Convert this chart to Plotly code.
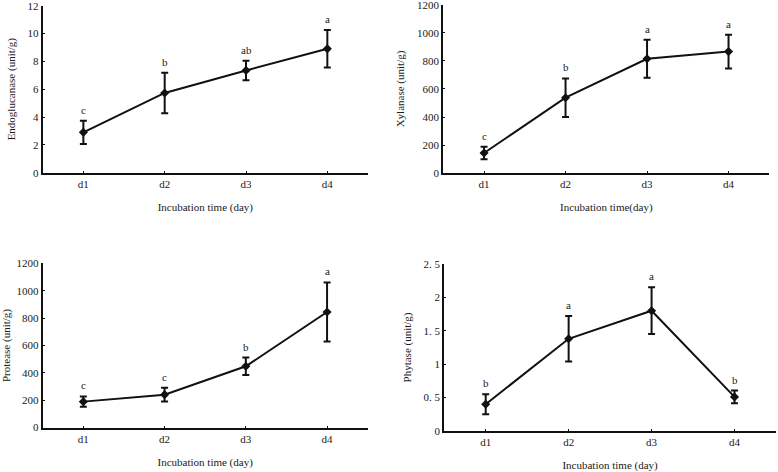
import plotly.graph_objects as go

days = ["d1", "d2", "d3", "d4"]

endo_mean = [2.9, 5.73, 7.35, 8.9]
endo_err = [0.83, 1.45, 0.7, 1.35]
endo_sig = ["c", "b", "ab", "a"]

xyl_mean = [144, 538, 815, 866]
xyl_err = [44, 137, 135, 120]
xyl_sig = ["c", "b", "a", "a"]

prot_mean = [190, 241, 448, 845]
prot_err = [38, 50, 64, 216]
prot_sig = ["c", "c", "b", "a"]

phy_mean = [0.40, 1.38, 1.80, 0.51]
phy_err = [0.15, 0.34, 0.35, 0.095]
phy_sig = ["b", "a", "a", "b"]

panels = [
    dict(mean=endo_mean, err=endo_err, sig=endo_sig, ytitle="Endoglucanase (unit/g)",
         xtitle="Incubation time (day)", yrange=[0, 12.0001], dtick=2,
         xdom=[0.0549, 0.473], ydom=[0.634, 0.988], tickvals=None, ticktext=None),
    dict(mean=xyl_mean, err=xyl_err, sig=xyl_sig, ytitle="Xylanase (unit/g)",
         xtitle="Incubation time(day)", yrange=[0, 1200.01], dtick=200,
         xdom=[0.5698, 0.9888], ydom=[0.633, 0.990], tickvals=None, ticktext=None),
    dict(mean=prot_mean, err=prot_err, sig=prot_sig, ytitle="Protease (unit/g)",
         xtitle="Incubation time (day)", yrange=[0, 1200.01], dtick=200,
         xdom=[0.0549, 0.4726], ydom=[0.094, 0.442], tickvals=None, ticktext=None),
    dict(mean=phy_mean, err=phy_err, sig=phy_sig, ytitle="Phytase (unit/g)",
         xtitle="Incubation time (day)", yrange=[0, 2.50001], dtick=0.5,
         xdom=[0.571, 0.9974], ydom=[0.087, 0.4407],
         tickvals=[0, 0.5, 1, 1.5, 2, 2.5], ticktext=["0", "0. 5", "1", "1. 5", "2", "2. 5"]),
]

FONT = "Liberation Serif"
FS = 11
TXT = "#1a1a1a"
fig = go.Figure()
layout = dict(
    width=778, height=472, margin=dict(l=0, r=0, t=0, b=0),
    paper_bgcolor="white", plot_bgcolor="white", showlegend=False,
    font=dict(family=FONT, size=FS, color=TXT),
)
annotations = []
for i, p in enumerate(panels):
    n = "" if i == 0 else str(i + 1)
    xa, ya = "x" + n, "y" + n
    fig.add_trace(go.Scatter(
        x=days, y=p["mean"], xaxis=xa, yaxis=ya, mode="lines+markers",
        line=dict(color="#111", width=2),
        marker=dict(symbol="diamond", size=7, color="#111"),
        error_y=dict(type="data", array=p["err"], visible=True, color="#111",
                     thickness=2, width=3.5),
    ))
    yax = dict(domain=p["ydom"], anchor=xa, range=p["yrange"], dtick=p["dtick"], tick0=0,
               automargin=False, ticklabeloverflow="allow",
               showgrid=False, zeroline=False, showline=True, linecolor="#111", linewidth=2,
               ticks="inside", ticklen=2, tickwidth=1, tickcolor="#111",
               tickfont=dict(family=FONT, size=FS, color=TXT),
               title=dict(text=p["ytitle"], font=dict(family=FONT, size=FS, color=TXT), standoff=10))
    if p["tickvals"] is not None:
        yax.update(tickmode="array", tickvals=p["tickvals"], ticktext=p["ticktext"])
    xax = dict(domain=p["xdom"], anchor=ya, range=[-0.5, 3.5], type="category",
               automargin=False,
               showgrid=False, zeroline=False, showline=True, linecolor="#111", linewidth=2,
               ticks="inside", ticklen=2, tickwidth=1, tickcolor="#111",
               tickfont=dict(family=FONT, size=FS, color=TXT),
               title=dict(text=p["xtitle"], font=dict(family=FONT, size=FS, color=TXT), standoff=14))
    layout["xaxis" + n] = xax
    layout["yaxis" + n] = yax
    for d, m, e, s in zip(days, p["mean"], p["err"], p["sig"]):
        annotations.append(dict(x=d, y=m + e, xref=xa, yref=ya, text=s, showarrow=False,
                                yanchor="bottom", yshift=3,
                                font=dict(family=FONT, size=FS, color=TXT)))
layout["annotations"] = annotations
fig.update_layout(**layout)
fig.write_html(
    "out.html",
    config={"displayModeBar": False},
    post_script="document.body.style.margin='0';document.body.style.overflow='hidden';",
)
